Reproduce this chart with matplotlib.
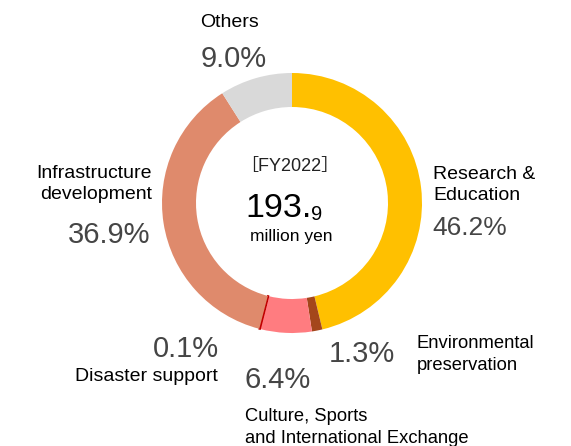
import matplotlib
matplotlib.use('Agg')
import matplotlib.pyplot as plt

# donut data, clockwise from 12 o'clock
categories = ["Research &\nEducation", "Environmental\npreservation",
              "Culture, Sports\nand International Exchange", "Disaster support",
              "Infrastructure\ndevelopment", "Others"]
shares = [46.2, 1.3, 6.4, 0.1, 36.9, 9.0]
share_labels = ["46.2%", "1.3%", "6.4%", "0.1%", "36.9%", "9.0%"]
colors = ["#FFC000", "#A4461B", "#FF7C80", "#C00000", "#DF8A6C", "#D9D9D9"]
total_label = "193."
total_decimal = "9"
year_label = "［FY2022］"

plt.rcParams['font.family'] = ['Liberation Sans', 'Noto Sans CJK JP', 'DejaVu Sans']

fig = plt.figure(figsize=(5.71, 4.46), dpi=100)
ax = fig.add_axes([0, 0, 1, 1])
ax.axis('off')

H = 446  # flip pixel rows to data y

wedges, _ = ax.pie(shares, colors=colors, startangle=90, counterclock=False,
                   center=(292, H - 203), radius=130,
                   wedgeprops=dict(width=34, linewidth=0))
wedges[3].set_edgecolor(colors[3])
wedges[3].set_linewidth(1.2)
ax.set_xlim(0, 571)
ax.set_ylim(0, 446)
ax.set_aspect('auto')

gray = "#454545"
lab = dict(size=14, color='black', va='baseline', linespacing=1.3)
num = dict(size=21, color=gray, va='baseline')

# Research & Education
ax.text(433, H - 200, categories[0], ha='left', **lab)
ax.text(432, H - 235, share_labels[0], ha='left', size=19, color=gray, va='baseline')
# Environmental preservation
ax.text(417, H - 370, categories[1], ha='left', color='black', va='baseline',
        size=13.2, linespacing=1.35)
ax.text(329, H - 362, share_labels[1], ha='left', **num)
# Culture, Sports
ax.text(245, H - 443, categories[2], ha='left', color='black', va='baseline',
        size=13.2, linespacing=1.35)
ax.text(244, H - 388, share_labels[2], ha='left', **num)
# Disaster support
ax.text(218, H - 381, categories[3], ha='right', **lab)
ax.text(219, H - 357, share_labels[3], ha='right', **num)
# Infrastructure development
ax.text(152, H - 199, categories[4], ha='right', **lab)
ax.text(150, H - 243, share_labels[4], ha='right', **num)
# Others
ax.text(200, H - 27, categories[5], ha='left', **lab)
ax.text(201, H - 67, share_labels[5], ha='left', **num)

# centre text
ax.text(290, H - 171, year_label, ha='center', va='baseline', size=13, color='#222222')
t = ax.text(312, H - 217, total_label, ha='right', va='baseline', size=24.5, color='black')
ax.annotate(total_decimal, xy=(1, 0), xycoords=t, xytext=(-1, 0), textcoords='offset points',
            ha='left', va='bottom', size=14.5, color='black')
ax.text(291, H - 241, "million yen", ha='center', va='baseline', size=12.5, color='black')

fig.savefig("out.png", dpi=100)
